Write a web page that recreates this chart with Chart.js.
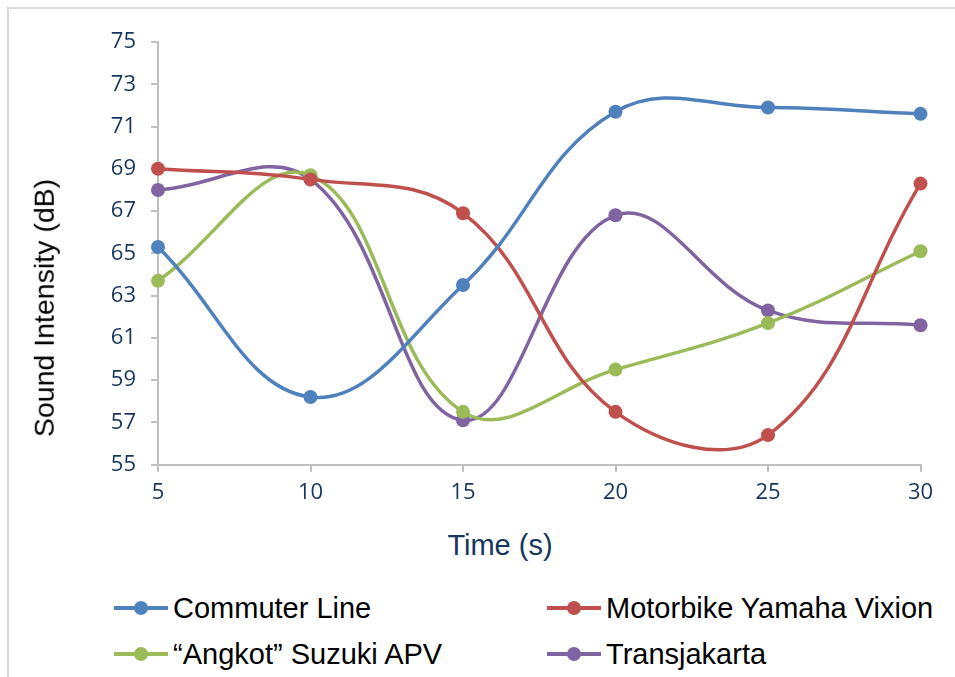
<!DOCTYPE html>
<html>
<head>
<meta charset="utf-8">
<script src="https://cdn.jsdelivr.net/npm/chart.js@4/dist/chart.umd.min.js"></script>
<style>
  html, body { margin: 0; padding: 0; background: #fff; overflow: hidden; }
  body { width: 955px; height: 677px; position: relative; }
  #frame { position: absolute; left: 7px; top: 7px; width: 1000px; height: 720px; border: 2px solid #d9d9d9; box-sizing: border-box; }
  #wrap { position: absolute; left: 0; top: 0; width: 955px; height: 520px; }
  .axis-title { position: absolute; font-family: "Liberation Sans", Arial, sans-serif; white-space: nowrap; line-height: 1; }
  #x-title { color: #17365d; font-size: 29px; left: 500px; top: 545px; transform: translate(-50%, -50%); }
  #y-title { color: #000; font-size: 28.5px; left: 44px; top: 308px; transform: translate(-50%, -50%) rotate(-90deg); }
  .legend-item { position: absolute; display: flex; align-items: center; height: 40px; font-family: "Liberation Sans", Arial, sans-serif; font-size: 29px; color: #000; white-space: nowrap; }
  .legend-mark { position: relative; width: 54px; height: 4px; margin-right: 5px; }
  .legend-mark span { position: absolute; left: 20px; top: -5px; width: 14px; height: 14px; border-radius: 50%; }
</style>
</head>
<body>
<div id="frame"></div>
<div id="wrap"><canvas id="soundChart"></canvas></div>
<div id="x-title" class="axis-title">Time (s)</div>
<div id="y-title" class="axis-title">Sound Intensity (dB)</div>
<div id="legend"></div>

<script>
// data
const timeLabels = ['5', '10', '15', '20', '25', '30'];
const commuterLine = [65.3, 58.2, 63.5, 71.7, 71.9, 71.6];
const motorbikeVixion = [69.0, 68.5, 66.9, 57.5, 56.4, 68.3];
const angkotApv = [63.7, 68.7, 57.5, 59.5, 61.7, 65.1];
const transjakarta = [68.0, 68.5, 57.1, 66.8, 62.3, 61.6];
const seriesNames = ['Commuter Line', 'Motorbike Yamaha Vixion', '\u201CAngkot\u201D Suzuki APV', 'Transjakarta'];
const yMin = 55, yMax = 75, yStep = 2;

const colors = ['#4f81bd', '#c0504d', '#9bbb59', '#8064a2'];
const allSeries = [commuterLine, motorbikeVixion, angkotApv, transjakarta];

const datasets = allSeries.map((vals, i) => ({
    label: seriesNames[i],
    data: vals,
    borderColor: colors[i],
    backgroundColor: colors[i],
    borderWidth: 3.5,
    pointRadius: 7,
    pointHoverRadius: 7,
    pointBorderWidth: 0,
    tension: 0.4,
    clip: false
}));

const axisGrey = '#bfbfbf';
const tickFont = { family: '"Open Sans", sans-serif', size: 22 };

const ctx = document.getElementById('soundChart').getContext('2d');
const soundChart = new Chart(ctx, {
    type: 'line',
    data: { labels: timeLabels, datasets: datasets },
    options: {
        responsive: true,
        maintainAspectRatio: false,
        animation: false,
        layout: { padding: { left: 0, right: 34.5, top: 42, bottom: 0 } },
        plugins: {
            legend: { display: false },
            tooltip: { enabled: false }
        },
        scales: {
            x: {
                offset: false,
                grid: { display: true, drawOnChartArea: false, drawTicks: true, tickLength: 7, color: axisGrey, lineWidth: 2 },
                border: { display: true, color: axisGrey, width: 2 },
                ticks: { color: '#17365d', font: tickFont, padding: 8, maxRotation: 0 },
                afterFit: function(scale) { scale.height = 55.3; }
            },
            y: {
                min: yMin,
                max: yMax,
                grid: { display: true, drawOnChartArea: false, drawTicks: true, tickLength: 7, color: axisGrey, lineWidth: 2 },
                border: { display: true, color: axisGrey, width: 2 },
                ticks: { stepSize: yStep, color: '#17365d', font: tickFont, padding: 15 },
                afterFit: function(scale) { scale.width = 158; }
            }
        }
    }
});

// legend built from the datasets
const legendPos = [
    { left: 114, top: 608 },
    { left: 547, top: 608 },
    { left: 114, top: 654 },
    { left: 547, top: 654 }
];
const legendEl = document.getElementById('legend');
datasets.forEach((ds, i) => {
    const item = document.createElement('div');
    item.className = 'legend-item';
    item.style.left = legendPos[i].left + 'px';
    item.style.top = (legendPos[i].top - 20) + 'px';
    const mark = document.createElement('div');
    mark.className = 'legend-mark';
    mark.style.background = ds.borderColor;
    const dot = document.createElement('span');
    dot.style.background = ds.borderColor;
    mark.appendChild(dot);
    const txt = document.createElement('div');
    txt.textContent = ds.label;
    item.appendChild(mark);
    item.appendChild(txt);
    legendEl.appendChild(item);
});
</script>
</body>
</html>
